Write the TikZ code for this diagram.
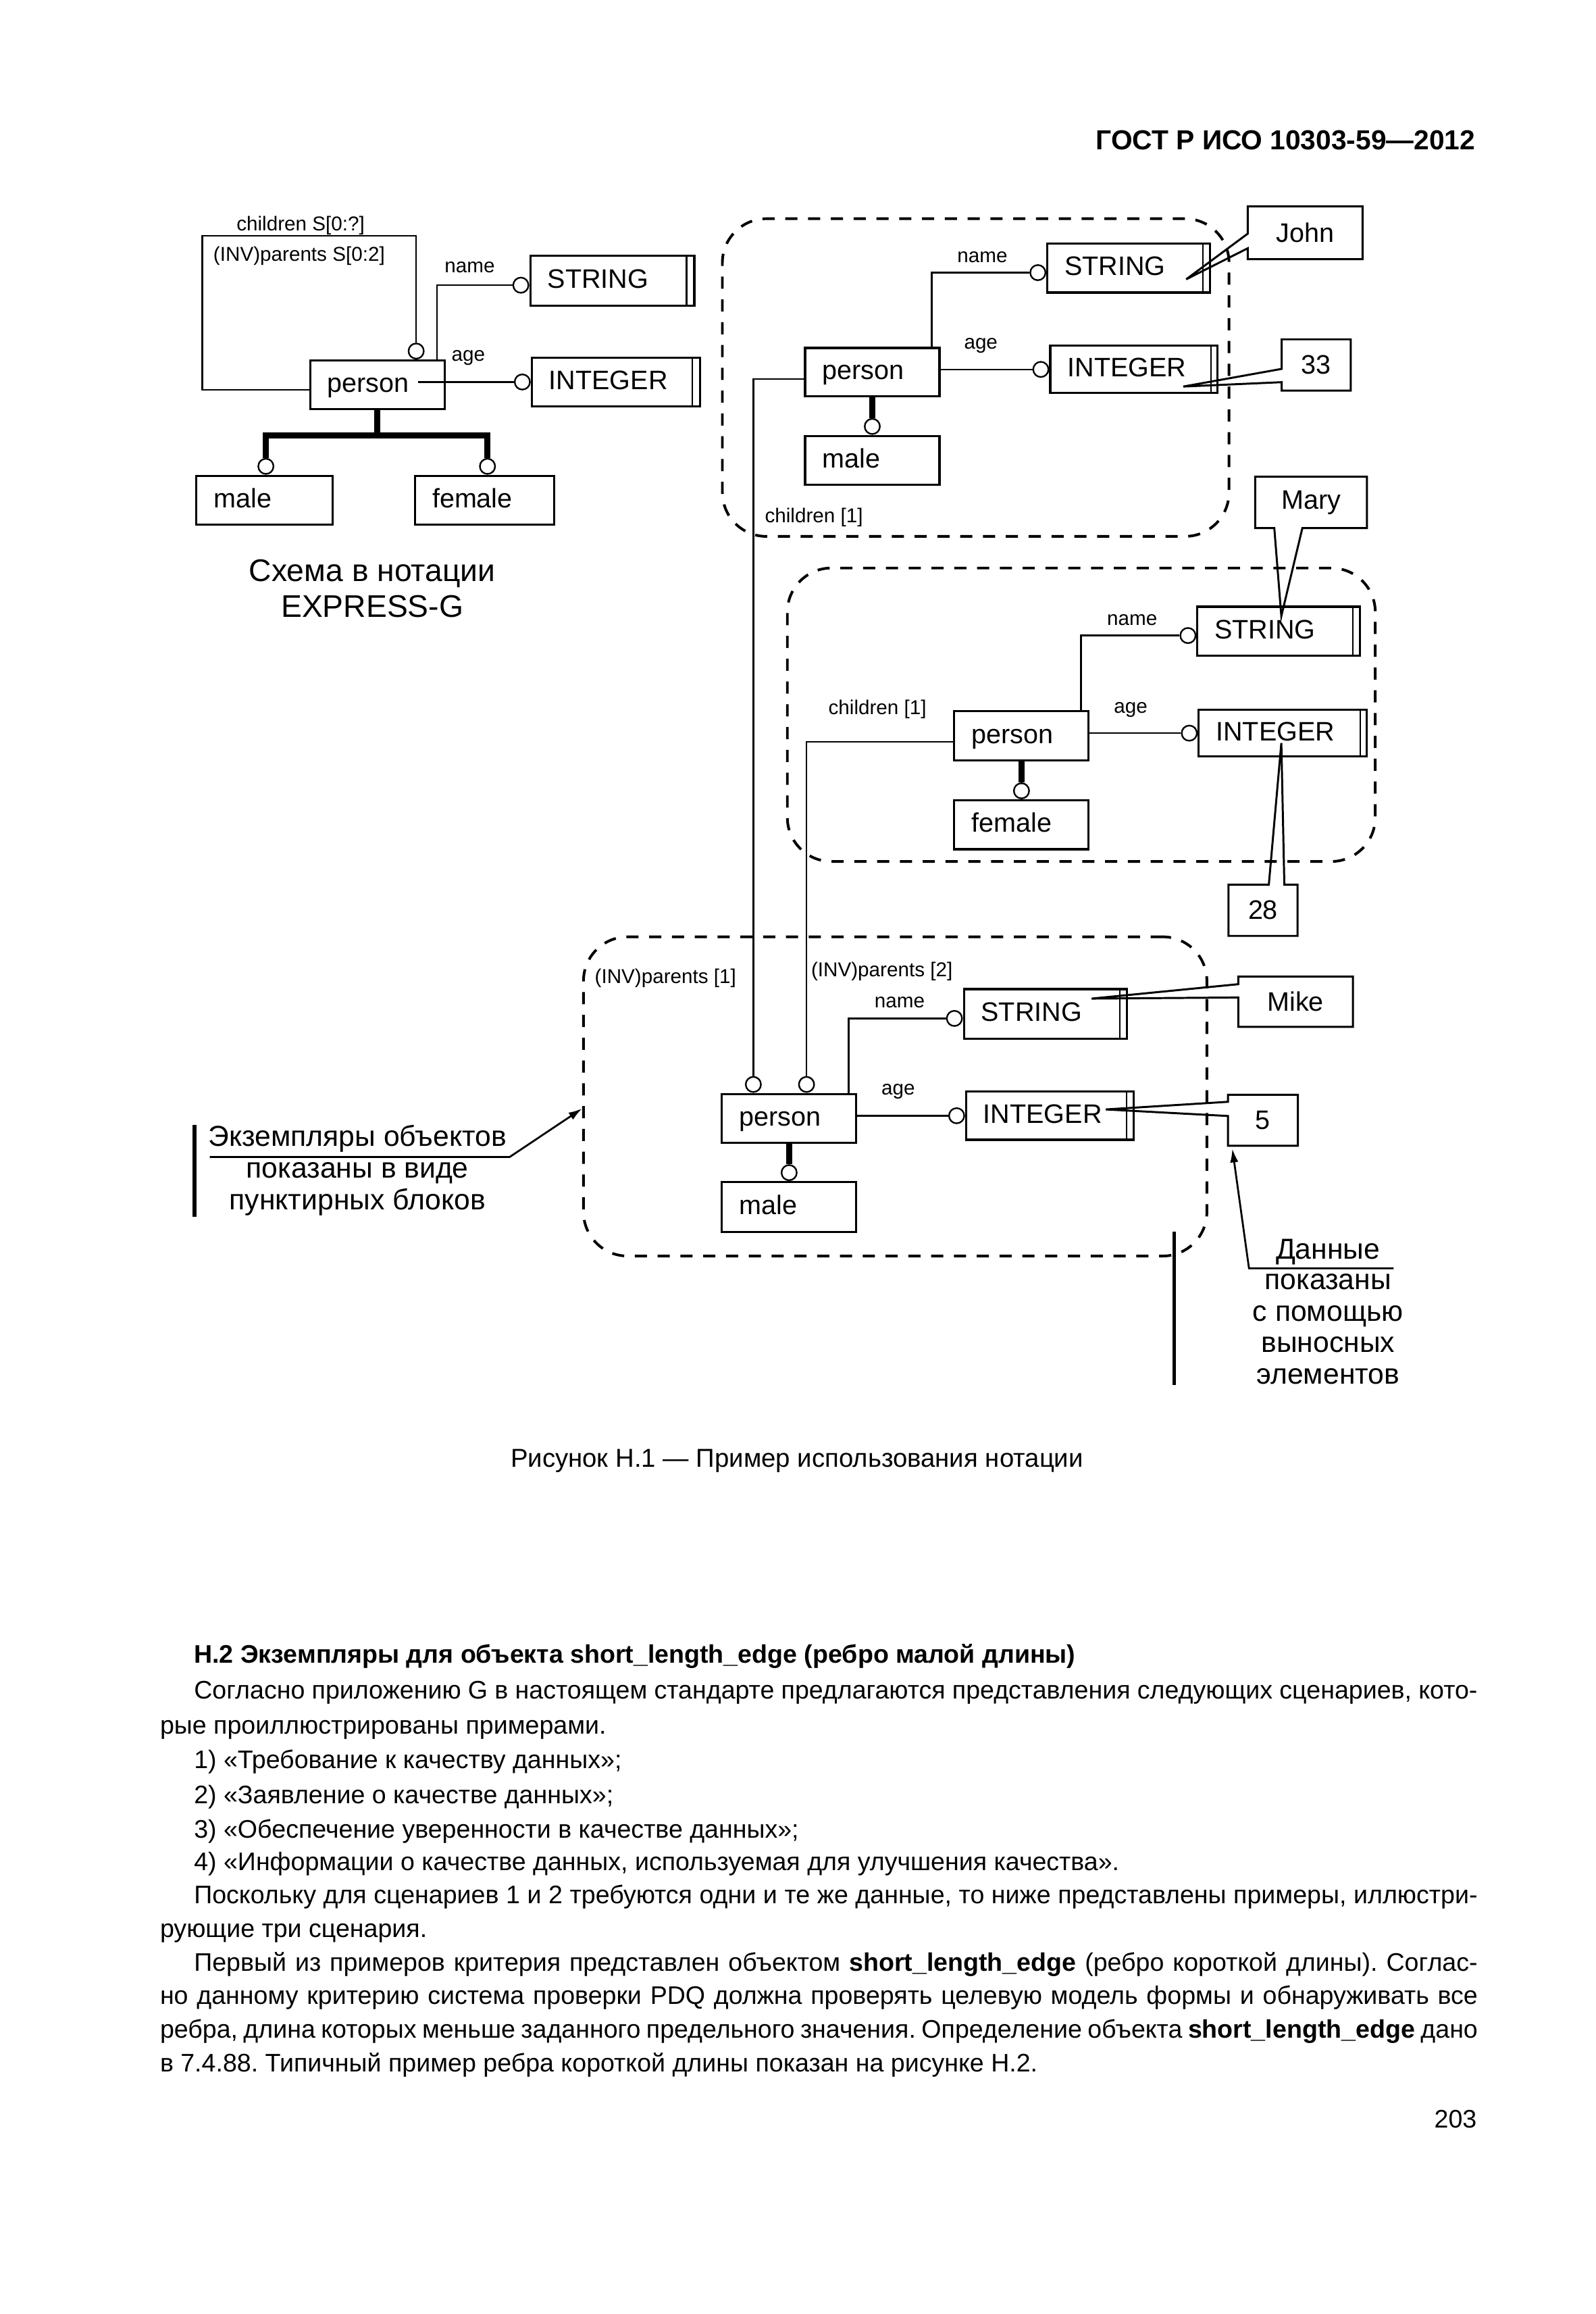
\documentclass[tikz,border=0pt]{standalone}
\usepackage{fontspec}
\setmainfont{Liberation Sans}
\usetikzlibrary{fit,calc,arrows.meta}
\newcommand{\ebx}[6]{%
  \node[ebox,fit={(#2,#3)(#4,#5)}] (#1) {};
  \node[blbl] (#1t) at ($(#1.west)+(12,5)$) {#6};}
\newcommand{\dbl}[2]{\draw[dline] ($(#1.north east)+(-#2,0)$) -- ($(#1.south east)+(-#2,0)$);}
\newcommand{\cbx}[6]{%
  \node[cfr,fit={(#2,#3)(#4,#5)}] (#1) {};
  \node[cbox] (#1t) at (#1.center) {#6};}
\frenchspacing
\begin{document}
\begin{tikzpicture}[x=0.1944mm,y=-0.1944mm,
  ebox/.style={draw,line width=0.8pt,inner sep=0pt},
  dline/.style={line width=0.6pt},
  conn/.style={line width=0.6pt},
  subl/.style={line width=2.2pt,line join=miter},
  circ/.style={draw,circle,line width=0.6pt,minimum size=2mm,inner sep=0pt},
  grp/.style={draw,dash pattern=on 1.6mm off 1.4mm,line width=1pt,rounded corners=5.8mm,inner sep=0pt},
  cfr/.style={inner sep=0pt},
  cbox/.style={inner sep=0pt,font=\fontsize{10}{12}\selectfont},
  cline/.style={line width=0.75pt,line join=miter},
  blbl/.style={inner sep=0pt,anchor=base west,font=\fontsize{10}{12}\selectfont},
  slbl/.style={inner sep=0pt,anchor=base,font=\fontsize{7.5}{9}\selectfont},
  ann/.style={inner sep=0pt,anchor=base,font=\fontsize{10.8}{13}\selectfont},
  capt/.style={inner sep=0pt,anchor=base,font=\fontsize{11.7}{14}\selectfont},
  bar/.style={line width=1.3pt},
  uline/.style={line width=0.7pt},
  body/.style={inner sep=0pt,anchor=base west,font=\fontsize{9.5}{12}\selectfont},
  figcap/.style={inner sep=0pt,anchor=base,font=\fontsize{9.7}{12}\selectfont},
  arr/.style={-{Latex[length=1.8mm,width=1.1mm]}}
]
\useasboundingbox (0,0) rectangle (1080,1566);

% header
\node[inner sep=0pt,anchor=base east,font=\bfseries\fontsize{10.3}{12}\selectfont] (hdr) at (999,101.4) {ГОСТ Р ИСО 10303-59—2012};

% ---------- EXPRESS-G schema ----------
\ebx{p0}{210}{244}{301}{277}{person}
\ebx{s0}{359}{173}{470}{207}{STRING} \dbl{s0}{6}
\ebx{i0}{360}{242}{474}{275}{INTEGER} \dbl{i0}{6}
\ebx{m0}{133}{322}{225}{355}{male}
\ebx{f0}{281}{322}{375}{355}{female}
\node[circ,anchor=east] (s0c) at ($(s0.west)+(0,3)$) {};
\node[circ,anchor=east] (i0c) at (i0.west) {};
\node[circ,anchor=south] (m0c) at ($(m0.north)+(1,0)$) {};
\node[circ,anchor=south] (f0c) at ($(f0.north)+(2,0)$) {};
\node[circ,anchor=south] (v0c) at ($(p0.north east)+(-20,0)$) {};
\draw[conn] ($(p0.north east)+(-6,0)$) |- (s0c.west);
\coordinate (p0a) at (283,0);
\draw[conn] (i0c.west) -- (i0c.west -| p0a);
\draw[subl] (p0.south) -- ++(0,17) coordinate (j0);
\draw[subl] (m0c.north) |- (j0) -| (f0c.north);
\coordinate (lp) at (137,159.6);
\draw[conn] ($(p0.west)+(0,3.2)$) -| (lp) -| (v0c.north);
\node[slbl] (lch0) at (203.5,156) {children S[0:?]};
\node[slbl] (linv0) at (202.5,176.5) {(INV)parents S[0:2]};
\node[slbl] (ln0) at (318,184.5) {name};
\node[slbl] (la0) at (317,244.5) {age};
\node[capt] (cap1) at (252,393.5) {Схема в нотации};
\node[capt] (cap2) at (252,417.5) {EXPRESS-G};

% ---------- instance 1 ----------
\node[grp,fit={(489,148)(832,363)}] (g1) {};
\ebx{p1}{545}{235.5}{636}{268}{person}
\ebx{m1}{545}{295}{636}{328}{male}
\ebx{s1}{709}{165}{819}{198}{STRING} \dbl{s1}{5.5}
\ebx{i1}{711}{234}{824}{266}{INTEGER} \dbl{i1}{5}
\node[circ,anchor=east] (s1c) at ($(s1.west)+(0,3)$) {};
\node[circ,anchor=east] (i1c) at (i1.west) {};
\node[circ,anchor=south] (m1c) at (m1.north) {};
\draw[conn] ($(p1.north east)+(-6,0)$) |- (s1c.west);
\draw[conn] (i1c.west) -- (i1c.west -| p1.east);
\draw[subl] (p1.south) -- (m1c.north);
\node[slbl] (ln1) at (665,177.5) {name};
\node[slbl] (la1) at (664,236.3) {age};
\node[slbl] (lc1) at (551,353.5) {children [1]};

% ---------- instance 2 ----------
\node[grp,fit={(533,384.4)(931,583)}] (g2) {};
\ebx{p2}{646}{481.4}{737}{514.5}{person}
\ebx{f2}{646}{541.6}{737}{574.7}{female}
\ebx{s2}{810.6}{410.6}{920.6}{443.6}{STRING} \dbl{s2}{5.6}
\ebx{i2}{811.5}{480.3}{925}{512}{INTEGER} \dbl{i2}{5}
\node[circ,anchor=east] (s2c) at ($(s2.west)+(0,3)$) {};
\node[circ,anchor=east] (i2c) at (i2.west) {};
\node[circ,anchor=south] (f2c) at (f2.north) {};
\draw[conn] ($(p2.north east)+(-6,0)$) |- (s2c.west);
\draw[conn] (i2c.west) -- (i2c.west -| p2.east);
\draw[subl] (p2.south) -- (f2c.north);
\node[slbl] (ln2) at (766.4,423.2) {name};
\node[slbl] (la2) at (765.4,482.4) {age};
\node[slbl] (lc2) at (594,483.4) {children [1]};

% ---------- instance 3 ----------
\node[grp,fit={(395,634)(817,850)}] (g3) {};
\ebx{p3}{488.7}{740.3}{579.7}{773.2}{person}
\ebx{m3}{488.7}{800}{579.7}{833.6}{male}
\ebx{s3}{652.5}{669.4}{762.7}{703}{STRING} \dbl{s3}{5.3}
\ebx{i3}{654}{738.8}{767.6}{771.3}{INTEGER} \dbl{i3}{5.6}
\node[circ,anchor=east] (s3c) at ($(s3.west)+(0,3)$) {};
\node[circ,anchor=east] (i3c) at (i3.west) {};
\node[circ,anchor=south] (m3c) at (m3.north) {};
\node[circ,anchor=south] (v1c) at ($(p3.north west)+(22,0)$) {};
\node[circ,anchor=south] (v2c) at ($(p3.north west)+(58,0)$) {};
\draw[conn] ($(p3.north east)+(-6,0)$) |- (s3c.west);
\draw[conn] (i3c.west) -- (i3c.west -| p3.east);
\draw[subl] (p3.south) -- (m3c.north);
\node[slbl] (li31) at (450.5,665.3) {(INV)parents [1]};
\node[slbl] (li32) at (597,661) {(INV)parents [2]};
\node[slbl] (ln3) at (609,682) {name};
\node[slbl] (la3) at (608,740.8) {age};

% links between instances
\draw[conn] ($(p1.west)+(0,4.75)$) -| (v1c.north);
\draw[conn] ($(p2.west)+(0,4.2)$) -| (v2c.north);

% ---------- callouts ----------
\cbx{cj}{845}{140}{922}{175}{John}
\coordinate (tj) at (803,189);
\draw[cline] (cj.north west) -- (cj.north east) -- (cj.south east) -- (cj.south west) -- ($(cj.north west)+(0,28.4)$) -- (tj) -- ($(cj.north west)+(0,18.5)$) -- cycle;

\cbx{c33}{868}{230}{914}{264}{33}
\coordinate (t33) at (801,261.6);
\draw[cline] (c33.north west) -- (c33.north east) -- (c33.south east) -- (c33.south west) -- ($(c33.north west)+(0,29)$) -- (t33) -- ($(c33.north west)+(0,20)$) -- cycle;

\cbx{cm}{850}{323}{925}{357}{Mary}
\coordinate (tm) at (867.4,417);
\draw[cline] (cm.north west) -- (cm.north east) -- (cm.south east) -- ($(cm.south west)+(32,0)$) -- (tm) -- ($(cm.south west)+(13,0)$) -- (cm.south west) -- cycle;

\cbx{c28}{832}{599}{878}{633}{28}
\coordinate (t28) at (867.4,502.8);
\draw[cline] (c28.north west) -- ($(c28.north west)+(27.3,0)$) -- (t28) -- ($(c28.north west)+(37.8,0)$) -- (c28.north east) -- (c28.south east) -- (c28.south west) -- cycle;

\cbx{ck}{838.6}{661.2}{915.5}{694.6}{Mike}
\coordinate (tk) at (739,675.8);
\draw[cline] (ck.north west) -- (ck.north east) -- (ck.south east) -- (ck.south west) -- ($(ck.north west)+(0,14.2)$) -- (tk) -- ($(ck.north west)+(0,5.2)$) -- cycle;

\cbx{c5}{831.6}{741.2}{878.2}{775}{5}
\coordinate (t5) at (748.6,750.8);
\draw[cline] (c5.north west) -- (c5.north east) -- (c5.south east) -- (c5.south west) -- ($(c5.north west)+(0,14.4)$) -- (t5) -- ($(c5.north west)+(0,4.8)$) -- cycle;

% ---------- annotations ----------
\draw[bar] (131.7,761.3) -- (131.7,823.3);
\node[ann] (a1) at (242,775.8) {Экземпляры объектов};
\node[ann] (a2) at (242,797) {показаны в виде};
\node[ann] (a3) at (242,818.5) {пунктирных блоков};
\coordinate (y750) at (0,750.2);
\draw[uline,arr] (142,783) -- (345,783) -- (g3.west |- y750);

\draw[bar] (794.8,833.7) -- (794.8,937.3);
\node[ann] (d1) at (899,852) {Данные};
\node[ann] (d2) at (899,872.5) {показаны};
\node[ann] (d3) at (899,894) {с помощью};
\node[ann] (d4) at (899,915.3) {выносных};
\node[ann] (d5) at (899,936.5) {элементов};
\draw[uline,arr] (943.4,858.3) -- (845.5,858.3) -- ($(c5.south west)+(3,2)$);

% ---------- caption and body ----------
\node[figcap] (fig) at (539.5,993) {Рисунок Н.1 — Пример использования нотации};

\node[body,font=\bfseries\fontsize{9.5}{12}\selectfont] (b0) at (131,1125.6) {Н.2 Экземпляры для объекта short\_length\_edge (ребро малой длины)};
\node[body] (b1) at (131,1149.5) {\makebox[168.9mm][s]{Согласно приложению G в настоящем стандарте предлагаются представления следующих сценариев, кото-}};
\node[body] (b2) at (108,1173.6) {рые проиллюстрированы примерами.};
\node[body] (b3) at (131,1197) {1) «Требование к качеству данных»;};
\node[body] (b4) at (131,1220.5) {2) «Заявление о качестве данных»;};
\node[body] (b5) at (131,1243.7) {3) «Обеспечение уверенности в качестве данных»;};
\node[body] (b6) at (131,1266) {4) «Информации о качестве данных, используемая для улучшения качества».};
\node[body] (b7) at (131,1288) {\makebox[168.9mm][s]{Поскольку для сценариев 1 и 2 требуются одни и те же данные, то ниже представлены примеры, иллюстри-}};
\node[body] (b8) at (108,1311) {рующие три сценария.};
\node[body] (b9) at (131,1334) {\makebox[168.9mm][s]{Первый из примеров критерия представлен объектом \textbf{short\_length\_edge} (ребро короткой длины). Соглас-}};
\node[body] (b10) at (108,1356.5) {\makebox[173.4mm][s]{но данному критерию система проверки PDQ должна проверять целевую модель формы и обнаруживать все}};
\node[body] (b11) at (108,1379.4) {\makebox[173.4mm][s]{ребра, длина которых меньше заданного предельного значения. Определение объекта \textbf{short\_length\_edge} дано}};
\node[body] (b12) at (108,1402) {в 7.4.88. Типичный пример ребра короткой длины показан на рисунке Н.2.};
\node[body,anchor=base east] (pg) at (1000,1440) {203};
\end{tikzpicture}
\end{document}
